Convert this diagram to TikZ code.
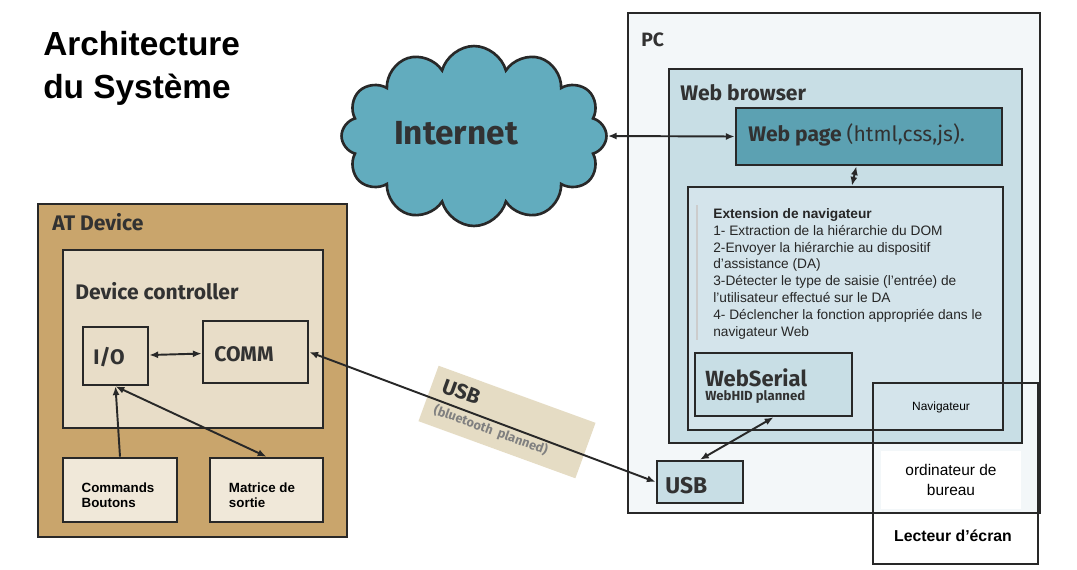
\documentclass[tikz,border=0pt]{standalone}
\usepackage{fontspec}
\setmainfont{Liberation Sans}
\newfontfamily\boxfont{Fira Sans}
\usetikzlibrary{shapes.symbols,fit,arrows.meta}

\definecolor{atfill}{RGB}{201,165,108}
\definecolor{ctrlfill}{RGB}{232,221,200}
\definecolor{partfill}{RGB}{240,232,217}
\definecolor{pcfill}{RGB}{243,247,249}
\definecolor{browserfill}{RGB}{200,222,229}
\definecolor{extfill}{RGB}{212,228,235}
\definecolor{pagefill}{RGB}{92,161,178}
\definecolor{cloudfill}{RGB}{98,172,190}
\definecolor{tagfill}{RGB}{229,220,196}
\definecolor{linedark}{RGB}{40,40,40}
\definecolor{labelgray}{RGB}{50,50,50}

\tikzset{
  box/.style={draw=linedark, line width=1.5pt, inner sep=0pt},
  boxlabel/.style={font=\boxfont\bfseries\fontsize{#1}{#1}\selectfont, text=labelgray, anchor=west, inner sep=0pt},
  boxlabel/.default=12,
  tip/.tip={Latex[length=5pt,width=4pt]},
  link/.style={tip-tip, line width=1.1pt, draw=linedark},
  small/.style={font=\fontsize{#1}{9.6}\selectfont, inner sep=0pt},
  smallbold/.style={font=\bfseries\fontsize{#1}{8.6}\selectfont, inner sep=0pt, align=left}
}

\begin{document}
\begin{tikzpicture}[x=0.02cm, y=-0.02cm]
\useasboundingbox (0,0) rectangle (1077,569);

% title
\node[anchor=north west, inner sep=0pt, align=left, font=\bfseries\fontsize{19}{24.4}\selectfont] (title) at (43,31) {Architecture\\du Système};

% AT device
\node[box, fill=atfill, fit={(38,204) (347,537)}] (atdev) {};
\node[boxlabel] (atlbl) at (52,222) {AT Device};
\node[box, fill=ctrlfill, fit={(63,250) (323,428)}] (ctrl) {};
\node[boxlabel] (ctrllbl) at (75,291) {Device controller};
\node[box, fill=ctrlfill, fit={(83,327) (148,385)}] (io) {};
\node[boxlabel] (iolbl) at (93,357) {I/O};
\node[box, fill=ctrlfill, fit={(203,321) (308,383)}] (comm) {};
\node[boxlabel] (commlbl) at (214,354) {COMM};
\node[box, fill=partfill, fit={(63,458) (177,522)}] (cmds) {};
\node[smallbold=7.6] (cmdslbl) at (118,495) {Commands\\Boutons};
\node[box, fill=partfill, fit={(210,458) (323,522)}] (matrice) {};
\node[smallbold=7.6] (matricelbl) at (262,495) {Matrice de\\sortie};

% PC
\node[box, fill=pcfill, fit={(628,13) (1040,513)}] (pc) {};
\node[boxlabel=11] (pclbl) at (641,40) {PC};
\node[box, fill=browserfill, fit={(669,69) (1022,443)}] (browser) {};
\node[boxlabel] (browserlbl) at (680,93) {Web browser};
\node[box, fill=pagefill, fit={(736,108) (1002,165)}] (webpage) {};
\node[boxlabel] (pagelbl) at (748,135) {Web page {\mdseries (html,css,js).}};
\node[box, fill=extfill, fit={(688,187) (1003,430)}] (ext) {};
\draw[black!20, line width=1pt] (697,205) -- (697,340);
\node[small=7.8, anchor=north west, align=left, text=black!85] (exttxt) at (713,208) {\textbf{Extension de navigateur}\\
1- Extraction de la hiérarchie du DOM\\
2-Envoyer la hiérarchie au dispositif\\
d'assistance (DA)\\
3-Détecter le type de saisie (l'entrée) de\\
l'utilisateur  effectué sur  le DA\\
4- Déclencher la fonction appropriée dans le\\
navigateur Web};
\node[box, fill=browserfill, fit={(695,353) (852,416)}] (webserial) {};
\node[boxlabel=12.5] (seriallbl) at (705,378) {WebSerial};
\node[boxlabel=7.5] (hidlbl) at (705,397) {WebHID planned};
\node[box, fill=browserfill, fit={(657,461) (743,503)}] (usbpc) {};
\node[boxlabel=13] (usblbl) at (665,486) {USB};

% desktop overlay
\node[fill=white, minimum width=2.8cm, minimum height=1.16cm, align=center, font=\fontsize{8.8}{11}\selectfont] (desktop) at (951,480) {ordinateur de\\bureau};
\node[box, fit={(873,383) (1038,564)}] (navbox) {};
\node[small=6.8] (navlbl) at (941,407) {Navigateur};
\node[font=\bfseries\fontsize{9}{10}\selectfont] (reader) at (953,536) {Lecteur d'écran};

% internet
\node[cloud, cloud puffs=12, cloud ignores aspect, draw=linedark, line width=1.5pt, fill=cloudfill, minimum width=5.3cm, minimum height=3.6cm] (inet) at (474,136) {};
\node[boxlabel=19, anchor=center] (inetlbl) at (456,133) {Internet};

% usb tag
\node[rotate=-20, fill=tagfill, minimum width=3.34cm, minimum height=1.18cm, text width=2.9cm, inner xsep=0.22cm, align=left] (usbtag) at (507,422) {{\boxfont\bfseries\fontsize{12}{13}\selectfont\color{labelgray}USB}\\[1pt]{\boxfont\bfseries\fontsize{7.3}{8}\selectfont\color{black!50}(bluetooth planned)}};

% links
\draw[link] (io) -- (comm);
\draw[-tip, line width=1.1pt, draw=linedark] (cmds.north) -- (io.south);
\draw[link] (io.south) -- (matrice.north);
\draw[link] (comm.east) -- (usbpc.west);
\draw[link] (inet.east) -- (webpage.west);
\draw[link] (webpage.247) -- (ext.87);
\draw[link] (webserial.south) -- (usbpc.north);
\end{tikzpicture}
\end{document}
